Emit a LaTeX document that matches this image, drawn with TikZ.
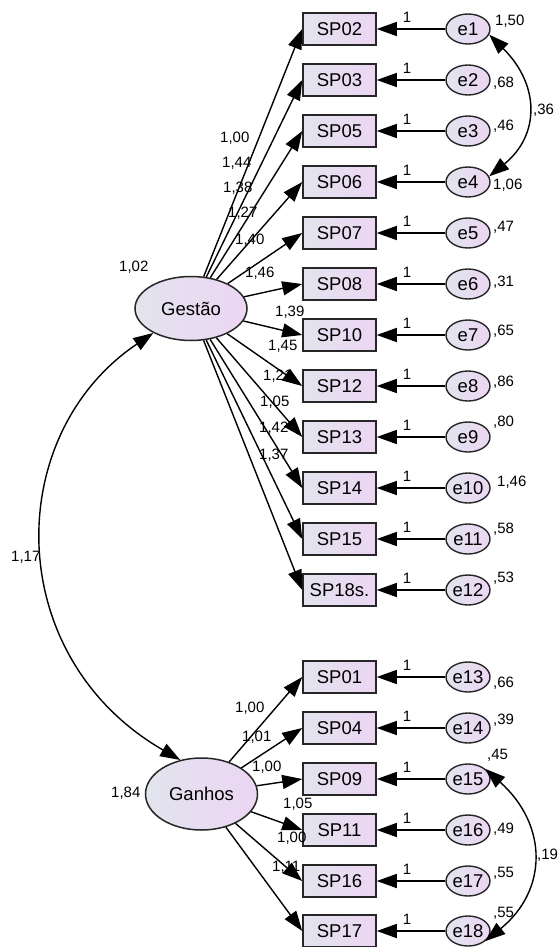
\documentclass[tikz,border=0pt]{standalone}
\usepackage{fontspec}
\setmainfont{Liberation Sans}
\usetikzlibrary{arrows.meta,shapes.geometric}
\definecolor{shL}{RGB}{226,228,238}
\definecolor{shR}{RGB}{236,214,243}
\tikzset{
  obs/.style={rectangle,draw=black!85,left color=shL,right color=shR,minimum width=73pt,minimum height=32pt,inner sep=0pt,line width=1.5pt,font=\fontsize{18.5}{18.5}\selectfont},
  lat/.style={ellipse,draw=black!85,left color=shL,right color=shR,minimum width=112pt,inner sep=0pt,line width=1.5pt,font=\fontsize{18.5}{18.5}\selectfont},
  err/.style={ellipse,draw=black!85,left color=shL,right color=shR,minimum width=44pt,minimum height=30pt,inner sep=0pt,line width=1.4pt,font=\fontsize{18.5}{18.5}\selectfont},
  pth/.style={-{Triangle[length=20pt,width=14pt]},line width=1.4pt,draw=black},
  cov/.style={{Triangle[length=20pt,width=14pt]}-{Triangle[length=20pt,width=14pt]},line width=1.4pt,draw=black},
  lb/.style={font=\fontsize{15}{15}\selectfont,inner sep=0pt,anchor=west},
  one/.style={font=\fontsize{15}{15}\selectfont,inner sep=0pt},
}
\begin{document}
\begin{tikzpicture}[x=1pt,y=-1pt]
\useasboundingbox (0,0) rectangle (559,947);
% ---------- latent factors ----------
\node[lat,minimum height=64pt] (Gestao) at (191,308.5) {Gestão};
\node[lat,minimum height=72pt] (Ganhos) at (201.5,794) {Ganhos};
% ---------- Gestão block ----------
\node[obs] (SP02) at (339.5,29) {SP02};  \node[err] (e1) at (468,29) {e1};
\node[obs] (SP03) at (339.5,80) {SP03};  \node[err] (e2) at (468,80) {e2};
\node[obs] (SP05) at (339.5,131) {SP05}; \node[err] (e3) at (468,131) {e3};
\node[obs] (SP06) at (339.5,182) {SP06}; \node[err] (e4) at (468,182) {e4};
\node[obs] (SP07) at (339.5,233) {SP07}; \node[err] (e5) at (468,233) {e5};
\node[obs] (SP08) at (339.5,284) {SP08}; \node[err] (e6) at (468,284) {e6};
\node[obs] (SP10) at (339.5,335) {SP10}; \node[err] (e7) at (468,335) {e7};
\node[obs] (SP12) at (339.5,386) {SP12}; \node[err] (e8) at (468,386) {e8};
\node[obs] (SP13) at (339.5,437) {SP13}; \node[err] (e9) at (468,437) {e9};
\node[obs] (SP14) at (339.5,488) {SP14}; \node[err] (e10) at (468,488) {e10};
\node[obs] (SP15) at (339.5,539) {SP15}; \node[err] (e11) at (468,539) {e11};
\node[obs] (SP18) at (339.5,590) {SP18s.}; \node[err] (e12) at (468,590) {e12};
% ---------- Ganhos block ----------
\node[obs] (SP01) at (339.5,677) {SP01}; \node[err] (e13) at (468,677) {e13};
\node[obs] (SP04) at (339.5,728) {SP04}; \node[err] (e14) at (468,728) {e14};
\node[obs] (SP09) at (339.5,779) {SP09}; \node[err] (e15) at (468,779) {e15};
\node[obs] (SP11) at (339.5,830) {SP11}; \node[err] (e16) at (468,830) {e16};
\node[obs] (SP16) at (339.5,881) {SP16}; \node[err] (e17) at (468,881) {e17};
\node[obs] (SP17) at (339.5,931) {SP17}; \node[err] (e18) at (468,931) {e18};
% ---------- variances ----------
\node[lb] (v0) at (119,267) {1,02}; \node[lb] (v00) at (111,793) {1,84};
\node[lb] (v1) at (495,21) {1,50};  \node[lb] (v2) at (493,83) {,68};
\node[lb] (v3) at (493,126) {,46};  \node[lb] (v4) at (493,185) {1,06};
\node[lb] (v5) at (493,227) {,47};  \node[lb] (v6) at (493,282) {,31};
\node[lb] (v7) at (493,331) {,65};  \node[lb] (v8) at (493,382) {,86};
\node[lb] (v9) at (493,422) {,80};  \node[lb] (v10) at (497,482) {1,46};
\node[lb] (v11) at (493,529) {,58}; \node[lb] (v12) at (493,578) {,53};
\node[lb] (v13) at (493,683) {,66}; \node[lb] (v14) at (493,720) {,39};
\node[lb] (v15) at (487,755) {,45}; \node[lb] (v16) at (493,829) {,49};
\node[lb] (v17) at (493,873) {,55}; \node[lb] (v18) at (493,913) {,55};
% ---------- covariances ----------
\node[lb] (c0) at (11,557) {1,17};
\node[lb] (c1) at (533,110) {,36};
\node[lb] (c2) at (537,855) {,19};
% ---------- loadings ----------
\node[lb] (g1) at (220,138) {1,00}; \node[lb] (g2) at (222,163) {1,44};
\node[lb] (g3) at (223,188) {1,38}; \node[lb] (g4) at (228,213) {1,27};
\node[lb] (g5) at (235,240) {1,40}; \node[lb] (g6) at (245,273) {1,46};
\node[lb] (g7) at (275,312) {1,39}; \node[lb] (g8) at (268,346) {1,45};
\node[lb] (g9) at (263,376) {1,21}; \node[lb] (g10) at (260,402) {1,05};
\node[lb] (g11) at (259,428) {1,42}; \node[lb] (g12) at (259,455) {1,37};
\node[lb] (h1) at (235,708) {1,00}; \node[lb] (h2) at (242,737) {1,01};
\node[lb] (h3) at (252,767) {1,00}; \node[lb] (h4) at (283,804) {1,05};
\node[lb] (h5) at (277,838) {1,00}; \node[lb] (h6) at (272,867) {1,11};
% ---------- fixed error weights ----------
\node[one] at (407,17) {1};  \node[one] at (407,68) {1};  \node[one] at (407,119) {1};
\node[one] at (407,170) {1}; \node[one] at (407,221) {1}; \node[one] at (407,272) {1};
\node[one] at (407,323) {1}; \node[one] at (407,374) {1}; \node[one] at (407,425) {1};
\node[one] at (407,476) {1}; \node[one] at (407,527) {1}; \node[one] at (407,578) {1};
\node[one] at (407,665) {1}; \node[one] at (407,716) {1}; \node[one] at (407,767) {1};
\node[one] at (407,818) {1}; \node[one] at (407,869) {1}; \node[one] at (407,919) {1};
% ---------- paths ----------
\draw[pth] (Gestao)--(SP02.west); \draw[pth] (Gestao)--(SP03.west);
\draw[pth] (Gestao)--(SP05.west); \draw[pth] (Gestao)--(SP06.west);
\draw[pth] (Gestao)--(SP07.west); \draw[pth] (Gestao)--(SP08.west);
\draw[pth] (Gestao)--(SP10.west); \draw[pth] (Gestao)--(SP12.west);
\draw[pth] (Gestao)--(SP13.west); \draw[pth] (Gestao)--(SP14.west);
\draw[pth] (Gestao)--(SP15.west); \draw[pth] (Gestao)--(SP18.west);
\draw[pth] (Ganhos)--(SP01.west); \draw[pth] (Ganhos)--(SP04.west);
\draw[pth] (Ganhos)--(SP09.west); \draw[pth] (Ganhos)--(SP11.west);
\draw[pth] (Ganhos)--(SP16.west); \draw[pth] (Ganhos)--(SP17.west);
\draw[pth] (e1)--(SP02);  \draw[pth] (e2)--(SP03);  \draw[pth] (e3)--(SP05);
\draw[pth] (e4)--(SP06);  \draw[pth] (e5)--(SP07);  \draw[pth] (e6)--(SP08);
\draw[pth] (e7)--(SP10);  \draw[pth] (e8)--(SP12);  \draw[pth] (e9)--(SP13);
\draw[pth] (e10)--(SP14); \draw[pth] (e11)--(SP15); \draw[pth] (e12)--(SP18);
\draw[pth] (e13)--(SP01); \draw[pth] (e14)--(SP04); \draw[pth] (e15)--(SP09);
\draw[pth] (e16)--(SP11); \draw[pth] (e17)--(SP16); \draw[pth] (e18)--(SP17);
\draw[cov] (Gestao.213) .. controls (2,435) and (2,657) .. (Ganhos.122);
\draw[cov] (e1.-15) .. controls (540,85) and (540,135) .. (e4.15);
\draw[cov] (e15.30) .. controls (548,825) and (548,890) .. (e18.-30);
\end{tikzpicture}
\end{document}
